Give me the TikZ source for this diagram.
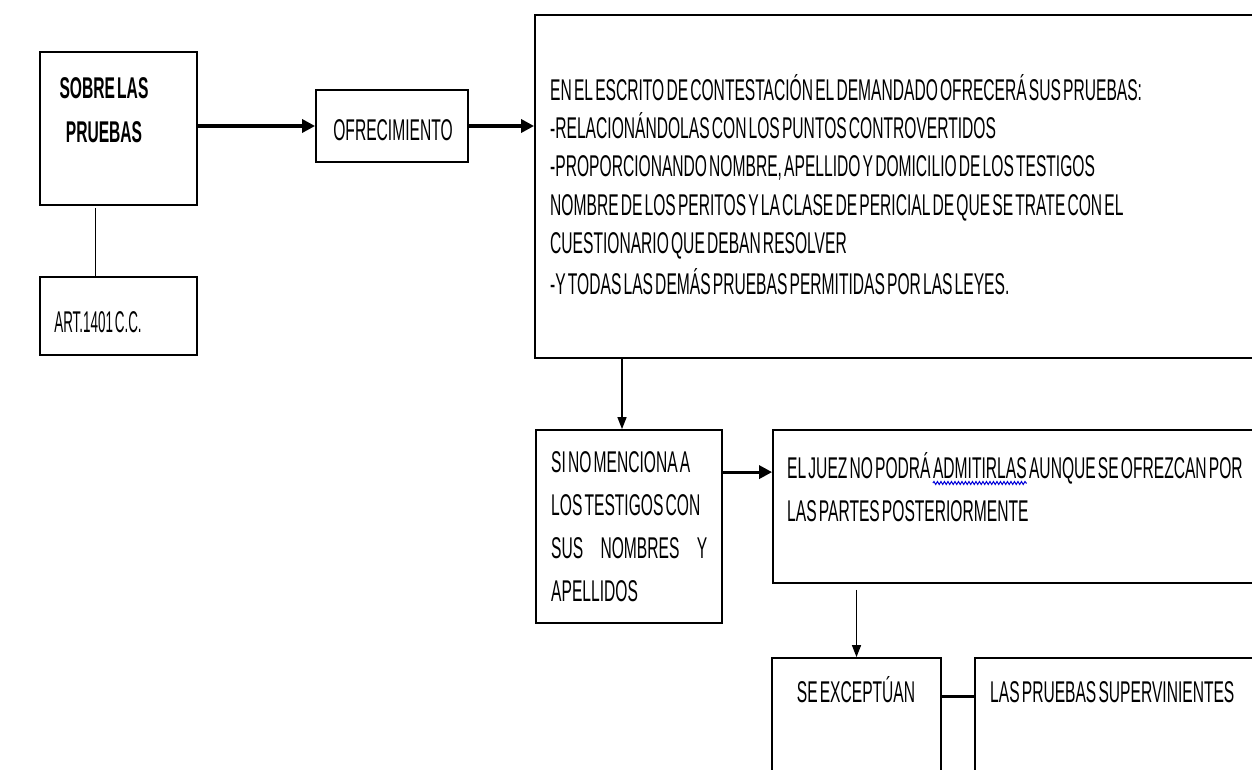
\documentclass[tikz,border=0pt]{standalone}
\usepackage{fontspec}
\setmainfont[FakeStretch=0.52,WordSpace=0.5]{Liberation Sans}
\usetikzlibrary{arrows.meta,decorations.pathmorphing}
\begin{document}
\begin{tikzpicture}[x=1pt,y=-1pt,
  box/.style={draw, line width=1.8pt, inner sep=0pt, rectangle},
  txt/.style={inner sep=0pt, anchor=base west, font=\fontsize{30}{36}\selectfont},
  ctxt/.style={inner sep=0pt, anchor=base, font=\fontsize{30}{36}\selectfont},
  bigarrow/.style={line width=3.2pt, -{Triangle[length=13pt,width=13pt]}},
  thinarrow/.style={line width=1.4pt, -{Triangle[length=12pt,width=9pt]}},
  spell/.style={draw=blue!85!black, line width=1pt, decorate, decoration={snake, amplitude=1.5pt, segment length=3.5pt}}
]
\useasboundingbox (0,0) rectangle (1252,770);
\fill[white] (0,0) rectangle (1252,770);
\clip (0,0) rectangle (1252,770);

% boxes
\node[box, minimum width=157pt, minimum height=153pt] (A) at (118.5,128.5) {};
\node[box, minimum width=157pt, minimum height=78pt] (B) at (118.5,316) {};
\node[box, minimum width=152pt, minimum height=72pt] (C) at (392,126) {};
\node[box, minimum width=727pt, minimum height=343pt] (D) at (898.5,186.5) {};
\node[box, minimum width=186pt, minimum height=193pt] (E) at (629,526.5) {};
\node[box, minimum width=489pt, minimum height=153pt] (F) at (1017.5,506.5) {};
\node[box, minimum width=169pt, minimum height=132pt] (G) at (856.5,724) {};
\node[box, minimum width=287pt, minimum height=132pt] (H) at (1118.5,724) {};

% texts
\node[ctxt, font=\fontsize{30}{36}\selectfont\bfseries] (a1) at (104,98.5) {SOBRE LAS};
\node[ctxt, font=\fontsize{30}{36}\selectfont\bfseries] (a2) at (104,142.5) {PRUEBAS};
\node[ctxt] (b1) at (98,332.5) {\scalebox{0.86}[1]{ART.1401 C.C.}};
\node[ctxt] (c1) at (393,141) {OFRECIMIENTO};

\node[txt] (d1) at (550,100.5) {EN EL ESCRITO DE CONTESTACIÓN EL DEMANDADO OFRECERÁ SUS PRUEBAS:};
\node[txt] (d2) at (550,139) {-RELACIONÁNDOLAS CON LOS PUNTOS CONTROVERTIDOS};
\node[txt] (d3) at (550,177) {-PROPORCIONANDO NOMBRE, APELLIDO Y DOMICILIO DE LOS TESTIGOS};
\node[txt] (d4) at (550,215) {NOMBRE DE LOS PERITOS Y LA CLASE DE PERICIAL DE QUE SE TRATE CON EL};
\node[txt] (d5) at (550,253.5) {CUESTIONARIO QUE DEBAN RESOLVER};
\node[txt] (d6) at (550,294) {-Y TODAS LAS DEMÁS PRUEBAS PERMITIDAS POR LAS LEYES.};

\node[txt] (e1) at (551,472.5) {SI NO MENCIONA A};
\node[txt] (e2) at (551,515.5) {LOS TESTIGOS CON};
\node[txt] (e3) at (551,558.5) {\makebox[156pt][s]{SUS\hfill NOMBRES\hfill Y}};
\node[txt] (e4) at (551,601.5) {APELLIDOS};

\node[txt] (f1a) at (787,478.5) {EL JUEZ NO PODRÁ};
\node[txt] (f1b) at ([xshift=2pt]f1a.base east) {ADMITIRLAS};
\node[txt] (f1c) at ([xshift=2pt]f1b.base east) {AUNQUE SE OFREZCAN POR};
\node[txt] (f2) at (787,521.5) {LAS PARTES POSTERIORMENTE};
\draw[spell] ([yshift=-4.5pt]f1b.base west) -- ([yshift=-4.5pt]f1b.base east);

\node[ctxt] (g1) at (856,702.5) {SE EXCEPTÚAN};
\node[txt] (h1) at (990,702.5) {LAS PRUEBAS SUPERVINIENTES};

% connectors
\draw[line width=1pt] ([xshift=-23.5pt,yshift=-2pt]A.south) -- ([xshift=-23.5pt]A.south |- B.north);
\draw[bigarrow] (A.east |- C.west) -- (C.west);
\draw[bigarrow] (C.east) -- (C.east -| D.west);
\draw[thinarrow] ([xshift=-7pt]E.north |- D.south) -- ([xshift=-7pt]E.north);
\draw[bigarrow] ([yshift=-43pt]E.north east) -- ([yshift=-43pt]E.north east -| F.west);
\draw[thinarrow] ([yshift=-6pt]G.north |- F.south) -- (G.north);
\draw[line width=3pt] ([yshift=-39pt]G.north east) -- ([yshift=-39pt]G.north east -| H.west);
\end{tikzpicture}
\end{document}
